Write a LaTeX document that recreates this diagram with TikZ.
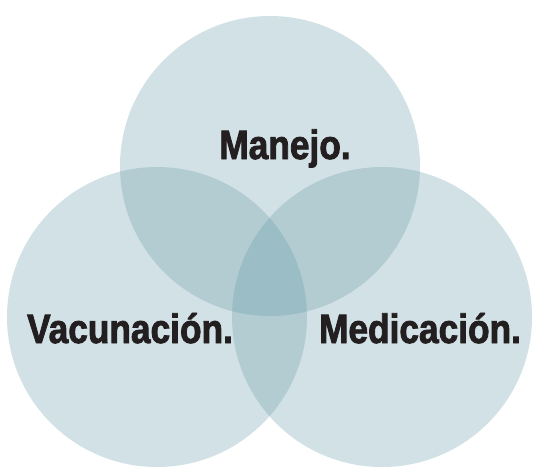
\documentclass[tikz,border=0pt]{standalone}
\usepackage{fontspec}
\setmainfont[FakeStretch=0.86, BoldFeatures={FakeBold=2}]{Liberation Sans}
\definecolor{venncol}{RGB}{100,152,165}
\definecolor{inkcol}{RGB}{35,31,32}

\tikzset{
	venn/.style={fill=venncol, fill opacity=0.29, draw=none},
	vennlabel/.style={font=\fontsize{41}{41}\selectfont\bfseries, text=inkcol, anchor=base, inner sep=0pt}
}

\begin{document}
\begin{tikzpicture}[x=1pt, y=-1pt]
	\useasboundingbox (0,0) rectangle (534,467);
	
	% the three sets
	\fill[venn] (270,166) circle (150);
	\fill[venn] (157,317) circle (150);
	\fill[venn] (382,317) circle (150);
	
	\node[vennlabel] (manejo) at (285,159) {Manejo.};
	\node[vennlabel] (vacunacion) at (130,343) {Vacunación.};
	\node[vennlabel] (medicacion) at (420,343) {Medicación.};
\end{tikzpicture}
\end{document}
